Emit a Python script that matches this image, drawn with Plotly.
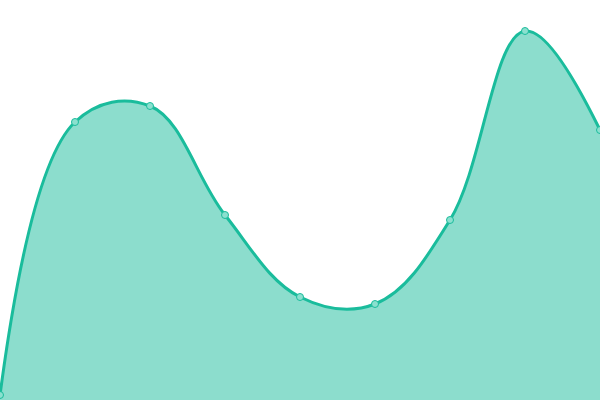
import plotly.graph_objects as go

# evenly spaced samples along the curve
x_values = [0, 1, 2, 3, 4, 5, 6, 7, 8]
y_values = [5, 278, 294, 185, 103, 96, 180, 369, 270]

line_color = "#1abc9c"
fill_color = "rgba(26, 188, 156, 0.5)"

fig = go.Figure()
fig.add_trace(
    go.Scatter(
        x=x_values,
        y=y_values,
        mode="lines+markers",
        line=dict(color=line_color, width=3, shape="spline", smoothing=1.1),
        fill="tozeroy",
        fillcolor=fill_color,
        marker=dict(size=7, color="#8be0cf", line=dict(color=line_color, width=1)),
        hoverinfo="skip",
        cliponaxis=False,
    )
)

fig.update_layout(
    width=600,
    height=400,
    margin=dict(l=0, r=0, t=0, b=0),
    paper_bgcolor="white",
    plot_bgcolor="white",
    showlegend=False,
)
fig.update_xaxes(visible=False, range=[0, 8])
fig.update_yaxes(visible=False, range=[0, 400])

# browser default body margin would shift the chart by 8px
fig.write_html(
    "out.html",
    config={"displayModeBar": False},
    post_script="document.body.style.margin = '0';",
)
